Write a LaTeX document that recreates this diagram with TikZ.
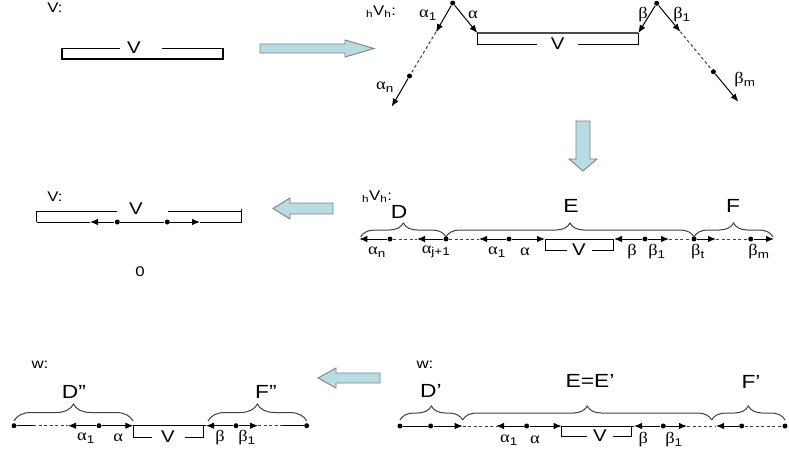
\documentclass[tikz,border=0pt]{standalone}
\usepackage{fontspec}
\setmainfont{Liberation Sans}[FakeStretch=1.2]
\newfontfamily\grk{Liberation Serif}[FakeStretch=1.15]
\usetikzlibrary{arrows.meta,decorations.pathreplacing}
\definecolor{aqua}{HTML}{B7DDE3}
\newcommand\galpha{{\grk α}}
\newcommand\gbeta{{\grk β}}
\tikzset{
  lbl/.style={inner sep=0pt, font=\fontsize{16}{17}\selectfont},
  bigl/.style={inner sep=0pt, font=\fontsize{19}{20}\selectfont},
  ttl/.style={inner sep=0pt, font=\fontsize{14}{15}\selectfont},
  vee/.style={inner sep=0pt, font=\fontsize{17}{18}\selectfont},
  dotnode/.style={circle, fill, inner sep=0pt, minimum size=5pt},
  arr/.style={-{Latex[length=8pt,width=6.5pt]}},
  dsh/.style={dash pattern=on 3pt off 2.5pt, gray!50!black},
  brc/.style={decorate, decoration={brace, amplitude=#1}, draw=gray!50!black, line width=1pt},
  brc/.default=14pt,
  fat/.style={fill=aqua, draw=gray, line width=0.9pt, line join=miter}
}
\begin{document}
\begin{tikzpicture}[x=1pt, y=-1pt, line width=1pt]
\useasboundingbox (0,0) rectangle (789,455);

\node[ttl] (v1) at (55,8) {V:};
\node[vee] (tV) at (134,48) {V};
\draw (62,48) -- (120,48);\draw (162,48) -- (223,48);
\draw[line width=1.3pt] (62,48) -- (62,59) -- (223,59) -- (223,48);

\filldraw[fat] (260,44) -- (345,44) -- (345,40) -- (374,48.5) -- (345,57) -- (345,53) -- (260,53) -- cycle;

\node[ttl] (hvh1) at (381,12) {\textsubscript{h}V\textsubscript{h}:};
\node[dotnode] (p1) at (452.7,3) {};
\node[dotnode] (p2) at (656.7,3.3) {};
\node[dotnode] (an) at (409.5,76) {};
\node[dotnode] (bm) at (713.4,71.7) {};
\coordinate (a1h) at (436,32);
\coordinate (ane) at (391.7,106.7);
\coordinate (vs) at (477.3,33);
\coordinate (ve) at (638.3,33);
\coordinate (b1h) at (680.3,31.7);
\coordinate (bme) at (738.3,101.7);
\draw[arr] (p1) -- (a1h);\draw[dsh] (a1h) -- (an);\draw[arr] (an) -- (ane);
\draw[arr] (p1) -- (vs);
\draw[arr] (p2) -- (ve);
\draw[arr] (p2) -- (b1h);\draw[dsh] (b1h) -- (bm);\draw[arr] (bm) -- (bme);
\draw[line width=2pt, gray!60!black] (vs) -- (ve);
\draw (vs) -- ++(0,11) -- (536.7,44);\draw (578,44) -- (638.3,44) -- (ve);
\node[vee] (tV2) at (557.7,44) {V};
\node[lbl] (la1) at (428,15) {\galpha\textsubscript{1}};
\node[lbl] (la) at (473,15) {\galpha};
\node[lbl] (lan) at (385,87) {\galpha\textsubscript{n}};
\node[lbl] (lb) at (643,15) {\gbeta};
\node[lbl] (lb1) at (682,15) {\gbeta\textsubscript{1}};
\node[lbl] (lbm) at (745,80) {\gbeta\textsubscript{m}};

\filldraw[fat] (576,121) -- (590,121) -- (590,159) -- (597,159) -- (583,171) -- (569,159) -- (576,159) -- cycle;

\node[ttl] (hvh2) at (377,197) {\textsubscript{h}V\textsubscript{h}:};
\coordinate (mL) at (359.3,239);
\node[dotnode] (man) at (390,239) {};
\coordinate (mh1) at (417,239);
\node[dotnode] (maj) at (446,239) {};
\coordinate (mh2) at (479,239);
\node[dotnode] (ma1) at (509,239) {};
\coordinate (mvs) at (545,239);
\coordinate (mve) at (614,239);
\node[dotnode] (mb) at (645,239) {};
\coordinate (mh3) at (669,239);
\node[dotnode] (mbt) at (694,239) {};
\coordinate (mh4) at (716,239);
\node[dotnode] (mbm) at (750.7,239) {};
\coordinate (mR) at (774,239);
\draw[arr] (man) -- (mL);\draw[dsh] (man) -- (mh1);
\draw[arr] (maj) -- (mh1);\draw[dsh] (maj) -- (mh2);
\draw[arr] (ma1) -- (mh2);\draw[arr] (ma1) -- (mvs);
\draw (mvs) -- (mve);
\draw (mvs) -- ++(0,11.7) -- (567,250.7);\draw (592,250.7) -- (613,250.7) -- (613,239);
\node[vee] (mV) at (579,250) {V};
\draw[arr] (mb) -- (mve);\draw[arr] (mb) -- (mh3);\draw[dsh] (mh3) -- (mbt);
\draw[arr] (mbt) -- (mh4);\draw[dsh] (mh4) -- (mbm);\draw[arr] (mbm) -- (mR);
\node[lbl] (man1) at (377,252) {\galpha\textsubscript{n}};
\node[lbl] (maj1) at (436,252) {\galpha\textsubscript{j+1}};
\node[lbl] (ma11) at (497,252) {\galpha\textsubscript{1}};
\node[lbl] (ma0) at (525,252) {\galpha};
\node[lbl] (mb0) at (632,252) {\gbeta};
\node[lbl] (mb11) at (657,252) {\gbeta\textsubscript{1}};
\node[lbl] (mbt1) at (698,252) {\gbeta\textsubscript{t}};
\node[lbl] (mbm1) at (759,252) {\gbeta\textsubscript{m}};
\draw[brc] (360.7,237) -- (446,237);
\draw[brc] (446,237) -- (694,237);
\draw[brc] (694,237) -- (773,237);
\node[bigl] (mD) at (399,212) {D};
\node[bigl] (mE) at (571,206) {E};
\node[bigl] (mF) at (733,206) {F};

\filldraw[fat] (333,203) -- (290,203) -- (290,198) -- (273,208.5) -- (290,219) -- (290,214) -- (333,214) -- cycle;

\node[ttl] (v2) at (55,197) {V:};
\coordinate (lL) at (36.7,222);
\coordinate (lh1) at (90,222);
\node[dotnode] (ld1) at (117.3,222) {};
\node[dotnode] (ld2) at (167.3,222) {};
\coordinate (lh2) at (200,222);
\coordinate (lR) at (241.7,222);
\draw (lL) -- (lh1);\draw[arr] (ld1) -- (lh1);\draw (ld1) -- (ld2);
\draw[arr] (ld2) -- (lh2);\draw (lh2) -- (lR);
\draw (116.7,211) -- (36.7,211) -- (lL);
\draw (168.3,211) -- (241.7,211);\draw (241.7,209) -- (lR);
\node[vee] (lV) at (136,209) {V};
\node[ttl] (zero) at (140,272) {0};

\filldraw[fat] (380,373) -- (336,373) -- (336,368) -- (318,378) -- (336,388) -- (336,383) -- (380,383) -- cycle;

\node[ttl] (w1) at (40,365) {w:};
\node[dotnode] (bd0) at (14,425.7) {};
\coordinate (bq1) at (33,425.7);
\coordinate (bh1) at (68,425.7);
\node[dotnode] (bda) at (99,425.7) {};
\coordinate (bvs) at (133.3,425.7);
\coordinate (bve) at (206,425.7);
\node[dotnode] (bdb) at (236,425.7) {};
\coordinate (bh2) at (258,425.7);
\coordinate (bq2) at (283,425.7);
\node[dotnode] (bd3) at (306.7,425.7) {};
\draw (bd0) -- (bq1);\draw[dsh] (bq1) -- (bh1);\draw[arr] (bda) -- (bh1);
\draw[arr] (bda) -- (bvs);\draw (bvs) -- (bve);
\draw (bvs) -- ++(0,11.6) -- (151.7,437.3);\draw (185,437.3) -- (203.3,437.3) -- (203.3,425.7);
\node[vee] (bV) at (168,437) {V};
\draw[arr] (bdb) -- (bve);\draw[arr] (bdb) -- (bh2);\draw[dsh] (bh2) -- (bq2);\draw (bq2) -- (bd3);
\node[lbl] (ba11) at (86,438) {\galpha\textsubscript{1}};
\node[lbl] (ba0) at (118.3,438) {\galpha};
\node[lbl] (bb0) at (220,438) {\gbeta};
\node[lbl] (bb11) at (247,438) {\gbeta\textsubscript{1}};
\draw[brc=17pt] (14,421) -- (133,421);
\draw[brc=17pt] (208,421) -- (306.7,421);
\node[bigl] (bD) at (74,392) {D''};
\node[bigl] (bF) at (266,392) {F''};

\node[ttl] (w2) at (425,365) {w:};
\node[dotnode] (rd0) at (400,426) {};
\node[dotnode] (rd1) at (430.7,426) {};
\coordinate (rh0) at (462.7,426);
\coordinate (rh1) at (496,426);
\node[dotnode] (rda) at (526.7,426) {};
\coordinate (rvs) at (561.7,426);
\coordinate (rve) at (634,426);
\node[dotnode] (rdb) at (663.3,426) {};
\coordinate (rh2) at (687,426);
\coordinate (rh3) at (716,426);
\node[dotnode] (rd4) at (741.7,426) {};
\node[dotnode] (rd5) at (785,426) {};
\draw (rd0) -- (rd1);\draw[arr] (rd1) -- (rh0);\draw[dsh] (rh0) -- (rh1);
\draw[arr] (rda) -- (rh1);\draw[arr] (rda) -- (rvs);\draw (rvs) -- (rve);
\draw (rvs) -- ++(0,10) -- (586.7,436);\draw (613.3,436) -- (631.7,436) -- (631.7,426);
\node[vee] (rV) at (600,436) {V};
\draw[arr] (rdb) -- (rve);\draw[arr] (rdb) -- (rh2);\draw[dsh] (rh2) -- (rh3);
\draw[arr] (rd4) -- (rh3);\draw[dsh] (rd4) -- (rd5);
\node[lbl] (ra11) at (509,440) {\galpha\textsubscript{1}};
\node[lbl] (ra0) at (535,440) {\galpha};
\node[lbl] (rb0) at (643.3,440) {\gbeta};
\node[lbl] (rb11) at (674,440) {\gbeta\textsubscript{1}};
\draw[brc] (400,420) -- (462.7,420);
\draw[brc] (462.7,420) -- (711.7,420);
\draw[brc] (711.7,420) -- (785,420);
\node[bigl] (rD) at (431,391) {D'};
\node[bigl] (rE) at (590,381) {E=E'};
\node[bigl] (rF) at (751,382) {F'};
\end{tikzpicture}
\end{document}
